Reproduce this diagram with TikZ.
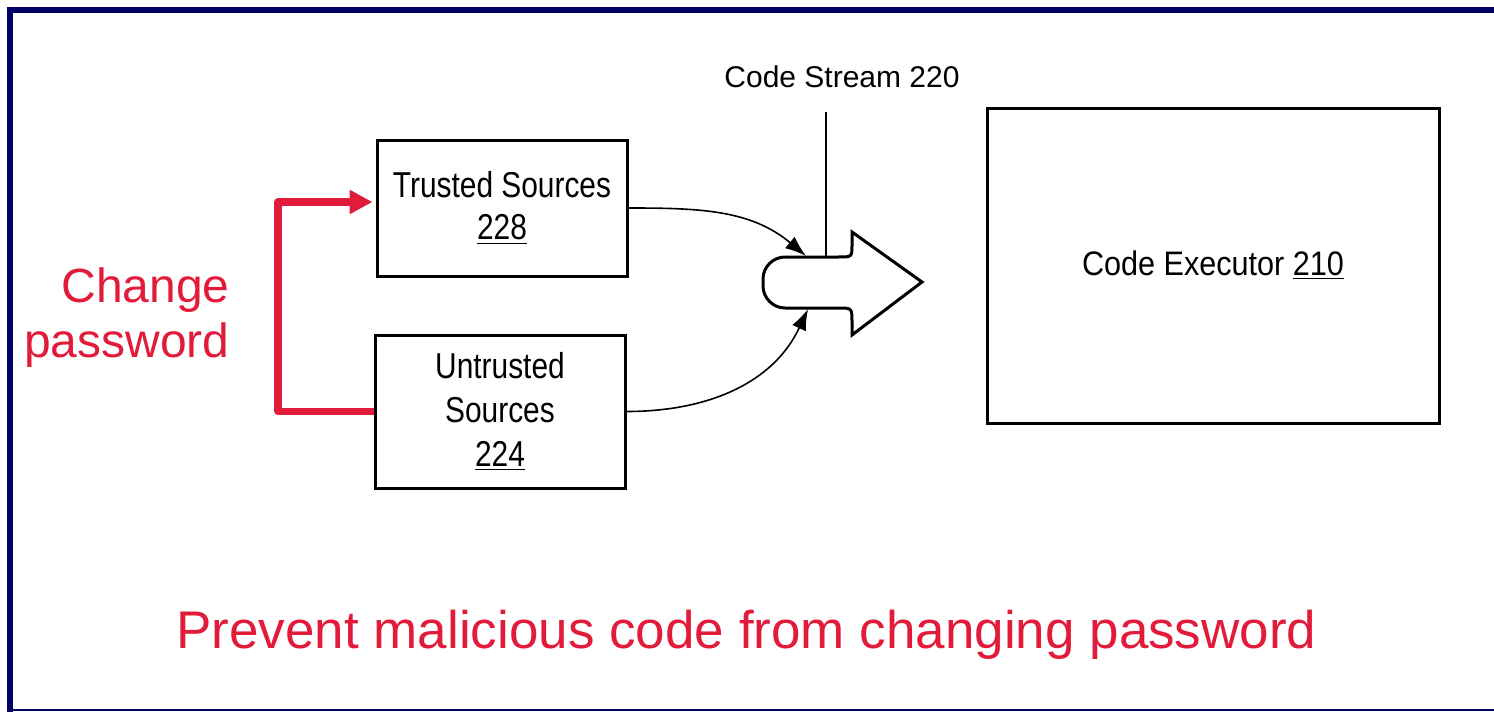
\documentclass[tikz,border=0pt]{standalone}
\usepackage{fontspec}
\setmainfont{Liberation Sans}
\newfontfamily\condfont{Liberation Sans}[FakeStretch=0.83]
\newfontfamily\execfont{Liberation Sans}[FakeStretch=0.9]
\usetikzlibrary{arrows.meta}
\definecolor{navyframe}{RGB}{0,0,102}
\definecolor{alertred}{RGB}{227,27,59}
\tikzset{
  srcbox/.style={draw=black, line width=1.5pt, minimum width=125pt, align=center,
     font=\condfont\fontsize{18}{21}\selectfont, inner sep=0pt},
  flow/.style={draw=black, line width=0.8pt, -{Latex[length=10.5pt,width=7.5pt]}},
  redline/.style={draw=alertred, line width=3.6pt, line join=round},
  redtext/.style={text=alertred, font=\fontsize{24}{28}\selectfont, inner sep=0pt},
}
\begin{document}
\begin{tikzpicture}[x=0.5pt,y=-0.5pt]
\useasboundingbox (0,0) rectangle (1494,712);
% frame
\fill[navyframe] (7,7) rectangle (1494,13);
\fill[navyframe] (7,7) rectangle (13,712);
\fill[navyframe] (7,709) rectangle (1494,711);

% boxes
\node[srcbox, minimum height=68pt] (trusted) at (502,208)
  {Trusted Sources\\[0pt]\underline{228}};
\node[srcbox, minimum height=76.5pt, font=\condfont\fontsize{18}{22}\selectfont] (untrusted) at (500,411.5)
  {Untrusted\\Sources\\\underline{224}};
\node[draw=black, line width=1.5pt, minimum width=226pt, minimum height=157.5pt,
      font=\execfont\fontsize{17}{20}\selectfont, inner sep=0pt] (exec) at (1213,265.5)
  {Code Executor \underline{210}};

% fat arrow (code stream)
\draw[line width=1.5pt, line join=miter]
  (852,232) -- (922,282) -- (852,335) -- (852,322)
  .. controls (852,308) .. (838,308) -- (785,308)
  .. controls (773,308) and (763,298) .. (763,286) -- (763,279)
  .. controls (763,267) and (773,257) .. (785,257) -- (838,257)
  .. controls (852,257) .. (852,245) -- cycle;

% code stream label and line
\node[anchor=base, font=\fontsize{15}{18}\selectfont, inner sep=0pt] (cslabel) at (842,87) {Code Stream 220};
\coordinate (streamtop) at (826,112);
\coordinate (bodytop) at (826,257);
\draw[line width=0.8pt] (streamtop) -- (bodytop);

% flows into the stream
\coordinate (intop) at (806,256);
\coordinate (inbot) at (808,309);
\draw[flow] (trusted.east) to[out=0,in=140] (intop);
\draw[flow] (untrusted.east) to[out=0,in=-115] (inbot);

% red bracket
\draw[redline, -{Triangle[length=11.5pt,width=11.5pt]}, shorten >=1.5pt]
  (untrusted.west) -- (278,411.5) |- ([yshift=3pt]trusted.west);

% red texts
\node[redtext, anchor=base east] (chg1) at (230,302) {Change};
\node[redtext, anchor=base east] (chg2) at (230,357) {password};
\node[redtext, anchor=base, font=\fontsize{26.5}{30}\selectfont] (bottom) at (746.5,648)
  {Prevent malicious code from changing password};
\end{tikzpicture}
\end{document}
